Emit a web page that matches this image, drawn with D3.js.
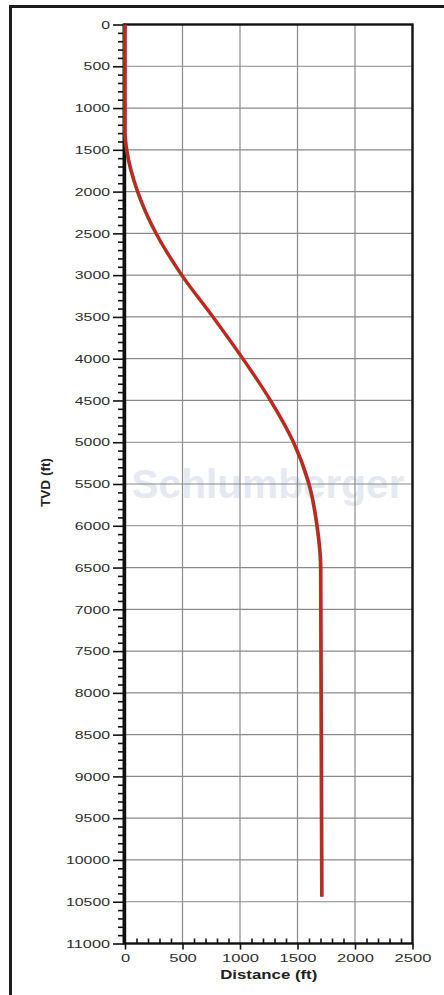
<!DOCTYPE html>
<html>
<head>
<meta charset="utf-8">
<script src="https://cdn.jsdelivr.net/npm/d3@7"></script>
<style>
  body { margin: 0; background: #fff; }
  svg text { font-family: "Liberation Sans", Arial, sans-serif; }
</style>
</head>
<body>
<div id="container"></div>
<script>
/* DATA */
const tvd  = [0, 1000, 1300, 1500, 2000, 2500, 3000, 3500, 4000, 4500, 5000, 5500, 6000, 6500, 10440];
const dist = [0, 0, 0, 15, 110, 270, 494, 765, 1025, 1265, 1465, 1600, 1670, 1702, 1712];
const xTicks = [0, 500, 1000, 1500, 2000, 2500];
const yTicks = d3.range(0, 11001, 500);
const xMinor = d3.range(0, 2501, 100).filter(d => d % 500 !== 0);
const yMinor = d3.range(0, 11001, 100).filter(d => d % 500 !== 0);

const wellPath = tvd.map((d, i) => ({ tvd: d, dist: dist[i] }));

/* CONSTANTS */
const width = 444, height = 995;
const margin = { top: 24.5, bottom: 51.5, left: 125, right: 31.5 };

const svg = d3.select("#container")
  .append("svg")
  .attr("width", width)
  .attr("height", height);

// outer frame
svg.append("rect")
  .attr("x", 10.5).attr("y", 6.5)
  .attr("width", 480).attr("height", 1020)
  .attr("fill", "#fff")
  .attr("stroke", "#1c1c1c")
  .attr("stroke-width", 3);

// SCALES
const xScale = d3.scaleLinear()
  .domain([0, 2500])
  .range([margin.left, width - margin.right]);

const yScale = d3.scaleLinear()
  .domain([0, 11000])
  .range([margin.top, height - margin.bottom]);

const x0 = xScale(0), x1 = xScale(2500), y0 = yScale(0), y1 = yScale(11000);

// watermark
svg.append("text")
  .attr("x", 268).attr("y", 498)
  .attr("text-anchor", "middle")
  .attr("font-size", 40)
  .attr("font-weight", "bold")
  .attr("fill", "#e4e9f2")
  .attr("textLength", 273)
  .attr("lengthAdjust", "spacingAndGlyphs")
  .text("Schlumberger");

// GRID
svg.append("g")
  .selectAll("line")
  .data(xTicks.slice(1, -1))
  .join("line")
  .attr("x1", d => xScale(d)).attr("x2", d => xScale(d))
  .attr("y1", y0).attr("y2", y1)
  .attr("stroke", "#8a8a8a").attr("stroke-width", 1.2);

svg.append("g")
  .selectAll("line")
  .data(yTicks.slice(1, -1))
  .join("line")
  .attr("x1", x0).attr("x2", x1)
  .attr("y1", d => yScale(d)).attr("y2", d => yScale(d))
  .attr("stroke", "#8a8a8a").attr("stroke-width", 1.2);

// AXES
const stretch = (sel, per) => sel.selectAll(".tick text")
  .attr("textLength", d => String(d).length * per)
  .attr("lengthAdjust", "spacingAndGlyphs");

const yAxis = svg.append("g")
  .attr("transform", `translate(${x0 - 1},0)`)
  .call(d3.axisLeft(yScale).tickValues(yTicks).tickSize(11).tickPadding(3).tickFormat(d3.format("d")));
yAxis.call(stretch, 8.8);

svg.append("g")
  .attr("transform", `translate(${x0 - 1},0)`)
  .call(d3.axisLeft(yScale).tickValues(yMinor).tickSize(6).tickFormat(""));

const xAxis = svg.append("g")
  .attr("transform", `translate(0,${y1})`)
  .call(d3.axisBottom(xScale).tickValues(xTicks).tickSize(6).tickPadding(4).tickFormat(d3.format("d")));
xAxis.call(stretch, 9.2);

svg.append("g")
  .attr("transform", `translate(0,${y1})`)
  .call(d3.axisBottom(xScale).tickValues(xMinor).tickSize(-5).tickFormat(""));

svg.selectAll(".domain").remove();
svg.selectAll(".tick line").attr("stroke", "#111").attr("stroke-width", 1.6);
svg.selectAll(".tick text")
  .attr("font-size", 11.5)
  .attr("fill", "#2e2e2e")
  .attr("font-family", "Liberation Sans, Arial, sans-serif");

// plot border
svg.append("rect")
  .attr("x", x0).attr("y", y0)
  .attr("width", x1 - x0).attr("height", y1 - y0)
  .attr("fill", "none")
  .attr("stroke", "#111")
  .attr("stroke-width", 2.4);

svg.append("line")
  .attr("x1", x0 - 1).attr("x2", x0 - 1)
  .attr("y1", y0 - 1).attr("y2", y1 + 1)
  .attr("stroke", "#111")
  .attr("stroke-width", 3);

// LINE GENERATOR
const line = d3.line()
  .x(d => xScale(d.dist))
  .y(d => yScale(d.tvd))
  .curve(d3.curveMonotoneY);

svg.append("path")
  .datum(wellPath)
  .attr("d", line)
  .attr("transform", "translate(-1,0)")
  .attr("fill", "none")
  .attr("stroke", "#3d6e2e")
  .attr("stroke-width", 1.8);

svg.append("path")
  .datum(wellPath)
  .attr("d", line)
  .attr("transform", "translate(0.5,0)")
  .attr("fill", "none")
  .attr("stroke", "#e3161b")
  .attr("stroke-width", 2.6);

// AXIS TITLES
svg.append("text")
  .attr("x", (x0 + x1) / 2).attr("y", 979)
  .attr("text-anchor", "middle")
  .attr("font-size", 12)
  .attr("font-weight", "bold")
  .attr("fill", "#222")
  .attr("textLength", 97)
  .attr("lengthAdjust", "spacingAndGlyphs")
  .text("Distance (ft)");

svg.append("text")
  .attr("transform", "translate(50,482.5) rotate(-90)")
  .attr("text-anchor", "middle")
  .attr("font-size", 12)
  .attr("font-weight", "bold")
  .attr("fill", "#222")
  .attr("textLength", 49)
  .attr("lengthAdjust", "spacingAndGlyphs")
  .text("TVD (ft)");
</script>
</body>
</html>
